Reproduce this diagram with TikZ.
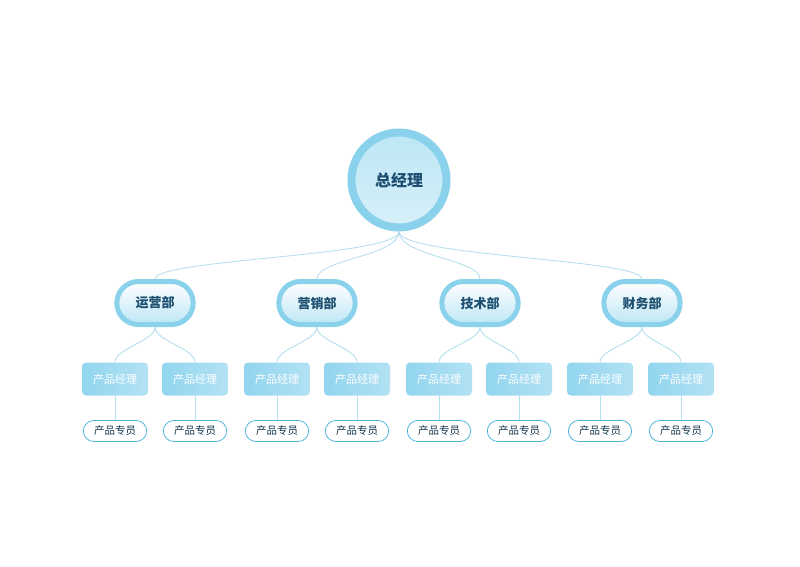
\documentclass[tikz,border=0pt]{standalone}
\usepackage{fontspec}
\newfontfamily\cjk{Noto Sans CJK SC}
\usetikzlibrary{positioning,shapes.misc,shadings}
\definecolor{ring}{HTML}{8AD1EB}
\definecolor{inner}{HTML}{BDE6F5}
\definecolor{ink}{HTML}{1D4F70}
\definecolor{mgr}{HTML}{92D5EF}
\definecolor{edge}{HTML}{4EB5DB}
\definecolor{wire}{HTML}{B5DFEE}
\tikzset{
  boss/.style={circle, minimum size=95, draw=ring, line width=8pt,
    top color=inner, bottom color=white!40!inner, text=ink, font=\cjk\bfseries\fontsize{16}{16}\selectfont},
  dept/.style={rounded rectangle, minimum width=83, minimum height=43, draw=ring, line width=5pt,
    top color=white, bottom color=inner, text=ink, font=\cjk\bfseries\fontsize{13}{13}\selectfont},
  mgrbox/.style={rounded corners=4, minimum width=66, minimum height=33,
    left color=mgr, right color=mgr!70!white, text=white, font=\cjk\fontsize{11}{11}\selectfont},
  staff/.style={rounded rectangle, minimum width=70, minimum height=21, draw=edge, line width=0.8pt,
    fill=white, text=ink!70!black, font=\cjk\fontsize{10.5}{10.5}\selectfont},
  wire/.style={draw=wire, line width=0.9pt}
}
\begin{document}
\begin{tikzpicture}[x=1pt,y=-1pt]
  \useasboundingbox (0,0) rectangle (800,566);
  \node[boss] (ceo) at (399,180) {总经理};
  % departments
  \foreach \name/\x/\txt in {d1/155/运营部, d2/317/营销部, d3/480/技术部, d4/642/财务部}{
    \node[dept] (\name) at (\x,303) {\txt};
    \draw[wire] (ceo.south) .. controls +(0,25) and +(0,-20) .. (\name.north);
  }
  % managers and staff
  \foreach \d/\xa/\xb in {d1/115/195, d2/277/357, d3/439/519, d4/600/681}{
    \node[mgrbox] (\d ma) at (\xa,379) {产品经理};
    \node[mgrbox] (\d mb) at (\xb,379) {产品经理};
    \node[staff] (\d sa) at (\xa,431) {产品专员};
    \node[staff] (\d sb) at (\xb,431) {产品专员};
    \draw[wire] (\d.south) .. controls +(0,14) and +(0,-14) .. (\d ma.north);
    \draw[wire] (\d.south) .. controls +(0,14) and +(0,-14) .. (\d mb.north);
    \draw[wire] (\d ma.south) -- (\d sa.north);
    \draw[wire] (\d mb.south) -- (\d sb.north);
  }
\end{tikzpicture}
\end{document}
